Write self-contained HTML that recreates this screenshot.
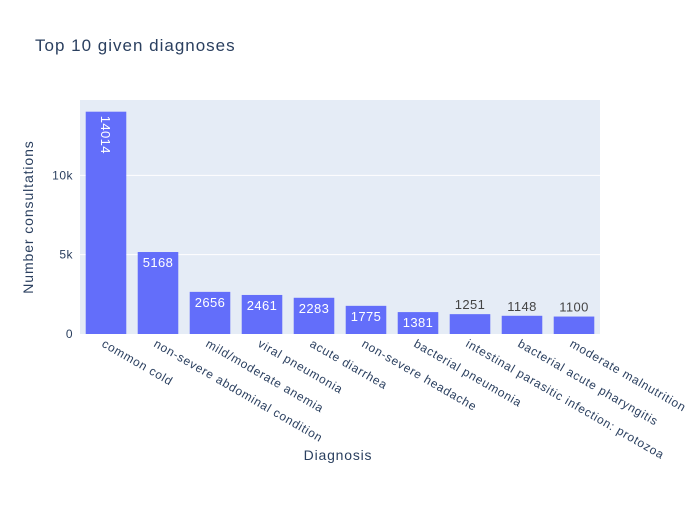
<!DOCTYPE html>
<html><head><meta charset="utf-8"><style>body{margin:0;background:#fff}svg{font-family:"Liberation Sans",Arial,sans-serif}</style></head>
<body>
<svg id="c" width="700" height="500">
<rect x="0" y="0" width="700" height="500" fill="#fff"/>
<rect x="80" y="100" width="520" height="234" fill="#e5ecf6"/>
<text x="35" y="51" font-size="17" letter-spacing="1" fill="#2a3f5f">Top 10 given diagnoses</text>
<text x="338" y="460" font-size="14" letter-spacing="0.8" fill="#2a3f5f" text-anchor="middle">Diagnosis</text>
<text x="0" y="0" font-size="14" letter-spacing="0.9" fill="#2a3f5f" text-anchor="middle" transform="translate(33,217) rotate(-90)">Number consultations</text>
<g id="grid"></g><g id="bars"></g><g id="xt"></g>
</svg>
<script>
const categories=["common cold","non-severe abdominal condition","mild/moderate anemia","viral pneumonia","acute diarrhea","non-severe headache","bacterial pneumonia","intestinal parasitic infection: protozoa","bacterial acute pharyngitis","moderate malnutrition"];
const values=[14014,5168,2656,2461,2283,1775,1381,1251,1148,1100];
const yTicks=[0,5000,10000];
const yTickLabels=["0","5k","10k"];
const NS="http://www.w3.org/2000/svg";
const L=80,R=600,T=100,B=334;
const yMax=Math.max(...values)*1.0526;
const y=v=>B-(v/yMax)*(B-T);
const bw=(R-L)/categories.length;
const x=i=>L+bw*(i+0.5);
function mk(t,a,p){const e=document.createElementNS(NS,t);for(const k in a)e.setAttribute(k,a[k]);p.appendChild(e);return e;}
const g=document.getElementById('grid');
yTicks.forEach((v,i)=>{
 if(v>0){const l=mk('line',{x1:L,x2:R,y1:y(v),y2:y(v),stroke:'#fff','stroke-width':1},g);
 
 }
 const t=mk('text',{x:L-7,y:y(v)+4,'font-size':12,'letter-spacing':0.5,fill:'#2a3f5f','text-anchor':'end'},g);t.textContent=yTickLabels[i];
 
 
});
const bg=document.getElementById('bars'),xt=document.getElementById('xt');
values.forEach((v,i)=>{
 const w=bw*0.78,cx=x(i);
 const r=mk('rect',{x:cx-w/2,y:y(v),width:w,height:B-y(v),fill:'#636efa'},bg);
 
 
 const h=B-y(v);let t;
 if(h>60&&v>10000){t=mk('text',{x:0,y:0,'font-size':13,'letter-spacing':0.4,fill:'#fff','text-anchor':'start',transform:`translate(${cx-5},${y(v)+4}) rotate(90)`},bg);}
 else if(h>20){t=mk('text',{x:cx,y:y(v)+15,'font-size':13,'letter-spacing':0.4,fill:'#fff','text-anchor':'middle'},bg);}
 else{t=mk('text',{x:cx,y:y(v)-5,'font-size':13,'letter-spacing':0.4,fill:'#444','text-anchor':'middle'},bg);}
 t.textContent=v;
 
 
 const tl=mk('text',{x:0,y:0,'font-size':12,'letter-spacing':0.75,fill:'#2a3f5f','text-anchor':'start',transform:`translate(${cx-5},${B+12}) rotate(30)`},xt);
 tl.textContent=categories[i];
 
 
});
</script>
</body></html>
